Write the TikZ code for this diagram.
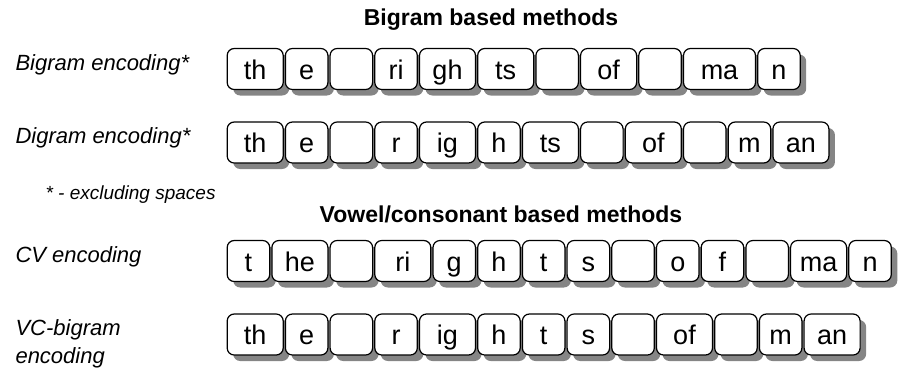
\documentclass[tikz,border=0pt]{standalone}
\usepackage{fontspec}
\setmainfont{Liberation Sans}
\usetikzlibrary{positioning,shadows}

\begin{document}
\begin{tikzpicture}[x=1pt,y=-1pt,
		key/.style={draw,fill=white,line width=1.2pt,rounded corners=7pt,minimum height=41pt,inner sep=0pt,
			text height=20pt,text depth=0pt,font=\fontsize{27}{30}\selectfont,
			drop shadow={shadow xshift=6pt,shadow yshift=-6pt,fill=black!48,opacity=1}},
		method/.style={anchor=west,align=left,font=\fontsize{22}{28}\selectfont\itshape},
		heading/.style={font=\fontsize{23}{28}\selectfont\bfseries}]
		\def\s{42.5}
		\def\d{56}
		\useasboundingbox (0,0) rectangle (902,368);
		% headings and row labels
		\node[heading] (bigram) at (491,20) {Bigram based methods};
		\node[heading] (vowel) at (501,214) {Vowel/consonant based methods};
		\node[method] (lab1) at (12,65) {Bigram encoding*};
		\node[method] (lab2) at (12,138) {Digram encoding*};
		\node[method,font=\fontsize{19}{24}\selectfont\itshape] (note) at (42,195) {* - excluding spaces};
		\node[method] (lab3) at (12,257) {CV encoding};
		\node[method] (lab4) at (12,344) {VC-bigram\\encoding};
		% start points of the rows
		\path
		(225.6,69) coordinate (a-0)
		(225.6,142.5) coordinate (b-0)
		(225.6,261) coordinate (c-0)
		(225.6,334.5) coordinate (d-0);
		\foreach \t/\w [count=\i,remember=\i as \j (initially 0)] in {th/\d,e/\s,{}/\s,ri/\s,gh/\d,ts/\d,{}/\s,of/\d,{}/\s,ma/72,n/\s}
		\node[key,minimum width=\w,right=1pt of a-\j] (a-\i) {\t};
		\foreach \t/\w [count=\i,remember=\i as \j (initially 0)] in {th/\d,e/\s,{}/\s,r/\s,ig/\d,h/\s,ts/\d,{}/\s,of/\d,{}/\s,m/\s,an/\d}
		\node[key,minimum width=\w,right=1pt of b-\j] (b-\i) {\t};
		\foreach \t/\w [count=\i,remember=\i as \j (initially 0)] in {t/\s,he/\d,{}/\s,ri/\d,g/\s,h/\s,t/\s,s/\s,{}/\s,o/\s,f/\s,{}/\s,ma/\d,n/\s}
		\node[key,minimum width=\w,right=1pt of c-\j] (c-\i) {\t};
		\foreach \t/\w [count=\i,remember=\i as \j (initially 0)] in {th/\d,e/\s,{}/\s,r/\s,ig/\d,h/\s,t/\s,s/\s,{}/\s,of/\d,{}/\s,m/\s,an/\d}
		\node[key,minimum width=\w,right=1pt of d-\j] (d-\i) {\t};
	\end{tikzpicture}
\end{document}
